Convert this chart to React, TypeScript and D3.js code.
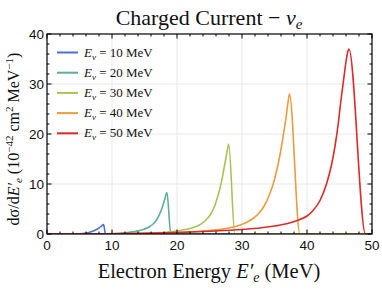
import React, { useEffect, useRef } from 'react';
import * as d3 from 'd3';

// x = electron energy (MeV), y = dσ/dE' (1e-42 cm^2 / MeV)
const energies = [10, 20, 30, 40, 50];
const colors = ['#4a6fd8', '#5fae98', '#a9c255', '#ec9c3c', '#de2a2a'];

const curve10: [number, number][] = [
  [0, 0], [4, 0], [5, 0.05], [6, 0.2], [6.8, 0.45], [7.4, 0.75], [7.9, 1.1], [8.3, 1.5], [8.55, 1.8], [8.7, 1.9], [9.0, 0], [10, 0], [50, 0],
];
const curve20: [number, number][] = [
  [0, 0], [8, 0], [10, 0.08], [12, 0.25], [13.5, 0.5], [14.8, 0.9], [15.7, 1.4], [16.4, 2.1], [16.9, 2.9], [17.3, 3.9], [17.7, 5.2], [18.1, 6.9], [18.45, 8.3], [19.05, 0], [50, 0],
];
const curve30: [number, number][] = [
  [0, 0], [12, 0.02], [15, 0.1], [18, 0.3], [20.5, 0.7], [22, 1.1], [23.3, 1.7], [24.3, 2.6], [25.1, 3.8], [25.7, 5.3], [26.2, 7.2], [26.7, 9.6], [27.1, 12.2], [27.5, 15.0], [27.8, 17.2], [27.95, 18.0], [28.9, 0], [50, 0],
];
const curve40: [number, number][] = [
  [0, 0], [12, 0.05], [16, 0.15], [20, 0.3], [24, 0.6], [27, 1.0], [29, 1.5], [30.5, 2.2], [31.7, 3.1], [32.7, 4.3], [33.5, 5.8], [34.2, 7.8], [34.8, 10.0], [35.3, 12.5], [35.8, 15.5], [36.3, 19.3], [36.8, 23.5], [37.1, 26.5], [37.3, 28.0], [38.9, 0], [50, 0],
];
const curve50: [number, number][] = [
  [0, 0], [10, 0.05], [15, 0.15], [20, 0.3], [25, 0.55], [30, 0.9], [33, 1.25], [35, 1.6], [37, 2.1], [38.5, 2.7], [40, 3.6], [41, 4.8], [42, 6.7], [43, 10.0], [43.8, 14.0], [44.3, 17.5], [44.8, 22.0], [45.2, 26.5], [45.6, 30.5], [46.0, 34.5], [46.3, 36.6], [46.45, 37.0], [49.0, 0], [50, 0],
];
const curves = [curve10, curve20, curve30, curve40, curve50];

const xTicks = [0, 10, 20, 30, 40, 50];
const yTicks = [0, 10, 20, 30, 40];

export default function App() {
  const ref = useRef<SVGSVGElement>(null);

  useEffect(() => {
    const svg = d3.select(ref.current);
    svg.selectAll('*').remove();

    const left = 47, right = 372, top = 34, bottom = 234;
    const x = d3.scaleLinear().domain([0, 50]).range([left, right]);
    const y = d3.scaleLinear().domain([0, 40]).range([bottom, top]);

    svg.append('rect').attr('width', 382).attr('height', 290).attr('fill', '#fff');

    // grid
    const grid = svg.append('g').attr('stroke', '#e8e8e8').attr('stroke-width', 1);
    xTicks.slice(1, -1).forEach(t => {
      grid.append('line').attr('x1', x(t)).attr('x2', x(t)).attr('y1', top).attr('y2', bottom);
    });
    yTicks.slice(1, -1).forEach(t => {
      grid.append('line').attr('x1', left).attr('x2', right).attr('y1', y(t)).attr('y2', y(t));
    });

    // curves
    const line = d3.line<[number, number]>().x(d => x(d[0])).y(d => y(d[1])).curve(d3.curveMonotoneX);
    const clip = svg.append('clipPath').attr('id', 'clip');
    clip.append('rect').attr('x', left).attr('y', top).attr('width', right - left).attr('height', bottom - top);
    const g = svg.append('g').attr('clip-path', 'url(#clip)');
    curves.forEach((c, i) => {
      g.append('path').attr('d', line(c)).attr('fill', 'none').attr('stroke', colors[i])
        .attr('stroke-width', 1.6).attr('stroke-linejoin', 'round');
    });

    // frame & ticks
    const fr = svg.append('g').attr('stroke', '#000');
    fr.append('rect').attr('x', left).attr('y', top).attr('width', right - left).attr('height', bottom - top)
      .attr('fill', 'none').attr('stroke-width', 1.2);
    d3.range(0, 51, 2).forEach(t => {
      const len = t % 10 === 0 ? 4.5 : 2.5;
      fr.append('line').attr('x1', x(t)).attr('x2', x(t)).attr('y1', bottom).attr('y2', bottom - len).attr('stroke-width', 1);
      fr.append('line').attr('x1', x(t)).attr('x2', x(t)).attr('y1', top).attr('y2', top + len).attr('stroke-width', 1);
    });
    d3.range(0, 41, 2).forEach(t => {
      const len = t % 10 === 0 ? 4.5 : 2.5;
      fr.append('line').attr('x1', left).attr('x2', left + len).attr('y1', y(t)).attr('y2', y(t)).attr('stroke-width', 1);
      fr.append('line').attr('x1', right).attr('x2', right - len).attr('y1', y(t)).attr('y2', y(t)).attr('stroke-width', 1);
    });

    // tick labels
    const tickFont = 'Liberation Sans, Arial, sans-serif';
    xTicks.forEach(t => {
      svg.append('text').attr('x', x(t)).attr('y', bottom + 16).attr('text-anchor', 'middle')
        .attr('font-family', tickFont).attr('font-size', 13.5).attr('fill', '#111').text(t);
    });
    yTicks.forEach(t => {
      svg.append('text').attr('x', left - 3).attr('y', y(t) + 5).attr('text-anchor', 'end')
        .attr('font-family', tickFont).attr('font-size', 13.5).attr('fill', '#111').text(t);
    });

    const serif = 'Liberation Serif, Times New Roman, serif';

    // title
    const title = svg.append('text').attr('x', 209).attr('y', 25).attr('text-anchor', 'middle')
      .attr('font-family', serif).attr('font-size', 22).attr('fill', '#111');
    title.append('tspan').text('Charged Current \u2212 ');
    title.append('tspan').attr('font-style', 'italic').text('\u03bd');
    title.append('tspan').attr('font-style', 'italic').attr('font-size', 15).attr('dy', 4).text('e');

    // x label
    const xl = svg.append('text').attr('x', 209).attr('y', 278).attr('text-anchor', 'middle')
      .attr('font-family', serif).attr('font-size', 20.5).attr('fill', '#111');
    xl.append('tspan').text('Electron Energy ');
    xl.append('tspan').attr('font-style', 'italic').text('E\u2032');
    xl.append('tspan').attr('font-style', 'italic').attr('font-size', 14).attr('dy', 4).text('e');
    xl.append('tspan').attr('dy', -4).text(' (MeV)');

    // y label
    const yl = svg.append('text').attr('transform', 'translate(19,139) rotate(-90)').attr('text-anchor', 'middle')
      .attr('font-family', serif).attr('font-size', 16).attr('fill', '#111');
    yl.append('tspan').text('d\u03c3/d');
    yl.append('tspan').attr('font-style', 'italic').text('E\u2032');
    yl.append('tspan').attr('font-style', 'italic').attr('font-size', 11).attr('dy', 3).text('e');
    yl.append('tspan').attr('dy', -3).text(' (10');
    yl.append('tspan').attr('font-size', 11).attr('dy', -6).text('\u221242');
    yl.append('tspan').attr('dy', 6).text(' cm');
    yl.append('tspan').attr('font-size', 11).attr('dy', -6).text('2');
    yl.append('tspan').attr('dy', 6).text(' MeV');
    yl.append('tspan').attr('font-size', 11).attr('dy', -6).text('\u22121');
    yl.append('tspan').attr('dy', 6).text(')');

    // legend
    energies.forEach((e, i) => {
      const ly = 52.5 + i * 20.2;
      svg.append('line').attr('x1', 57).attr('x2', 78).attr('y1', ly).attr('y2', ly)
        .attr('stroke', colors[i]).attr('stroke-width', 2);
      const t = svg.append('text').attr('x', 84).attr('y', ly + 4).attr('font-family', serif)
        .attr('font-size', 13).attr('fill', '#111');
      t.append('tspan').attr('font-style', 'italic').text('E');
      t.append('tspan').attr('font-style', 'italic').attr('font-size', 9).attr('dy', 3).text('\u03bd');
      t.append('tspan').attr('dy', -3).text(` = ${e} MeV`);
    });
  }, []);

  return (
    <svg ref={ref} width={382} height={290} style={{ position: 'absolute', left: 0, top: 0 }} />
  );
}
